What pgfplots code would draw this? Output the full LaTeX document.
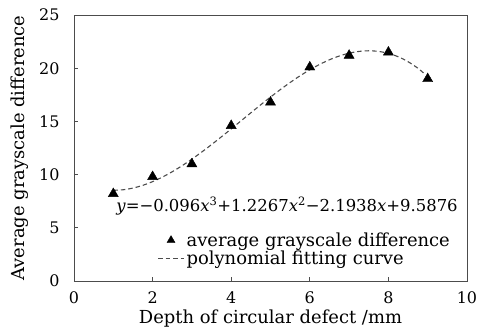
\documentclass[border=0pt]{standalone}
\usepackage{fontspec}
\setmainfont{DejaVu Serif}
\usepackage{pgfplots}
\pgfplotsset{compat=1.18}
\begin{document}
\begin{tikzpicture}
\begin{axis}[
  scale only axis,
  width=393bp, height=266bp,
  xmin=0, xmax=10, ymin=0, ymax=25,
  xtick={0,2,4,6,8,10}, ytick={0,5,10,15,20,25},
  xtick pos=left, ytick pos=left, tick align=inside,
  major tick length=4bp,
  axis line style={black!70, line width=0.9bp},
  tick style={black!70, line width=0.9bp},
  /pgf/number format/assume math mode=true,
  ticklabel style={font=\fontsize{16}{18}\selectfont},
  xticklabel style={anchor=center, yshift=-17bp},
  yticklabel style={anchor=east, xshift=-11bp},
  label style={font=\fontsize{18}{20}\selectfont},
  xlabel={Depth of circular defect /mm},
  ylabel={Average grayscale difference},
  xlabel style={at={(axis description cs:0.5,-0.141)}, anchor=center},
  ylabel style={at={(axis description cs:-0.137,0.5)}, anchor=center},
  legend style={draw=none, fill=none, at={(0.962,0.19)}, anchor=north east,
    font=\fontsize{18}{20}\selectfont, row sep=-1bp, inner sep=0pt},
  legend cell align=left,
  legend image code/.code={\draw[mark repeat=2,mark phase=2,#1] plot coordinates {(0bp,0bp) (13bp,0bp) (26bp,0bp)};},
]
\addplot[only marks, mark=triangle*, mark size=5.8bp, black,
  legend image post style={mark size=4.6bp}] coordinates {
(1,8.2) (2,9.8) (3,11.0) (4,14.6) (5,16.8) (6,20.1) (7,21.2) (8,21.5) (9,19.0)
};
\addlegendentry{average grayscale difference}
\addplot[black!70, line width=1.1bp, dash pattern=on 4.5bp off 3bp, smooth] coordinates {
(1.0,8.525) (1.25,8.575) (1.5,8.733) (1.75,8.991) (2.0,9.339) (2.25,9.768)
(2.5,10.270) (2.75,10.835) (3.0,11.455) (3.25,12.119) (3.5,12.820) (3.75,13.549)
(4.0,14.296) (4.25,15.052) (4.5,15.808) (4.75,16.556) (5.0,17.286) (5.25,17.990)
(5.5,18.657) (5.75,19.281) (6.0,19.850) (6.25,20.357) (6.5,20.792) (6.75,21.147)
(7.0,21.411) (7.25,21.577) (7.5,21.636) (7.75,21.578) (8.0,21.394) (8.25,21.076)
(8.5,20.613) (8.75,19.999) (8.9,19.53)
};
\addlegendentry{polynomial fitting curve}
\node[font=\fontsize{16.5}{18}\selectfont, inner sep=0pt] at (axis cs:5.42,7.05)
  {\textit{y}=−0.096\textit{x}\textsuperscript{3}+1.2267\textit{x}\textsuperscript{2}−2.1938\textit{x}+9.5876};
\end{axis}
\pgfresetboundingbox
\path (-74bp,-50bp) rectangle (407bp,281bp);
\end{tikzpicture}
\end{document}
